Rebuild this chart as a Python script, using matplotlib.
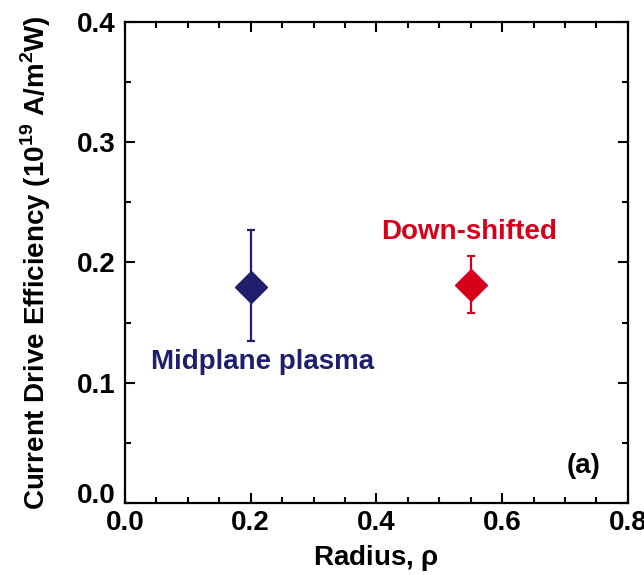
import matplotlib
matplotlib.use("Agg")
import matplotlib.pyplot as plt
from matplotlib.ticker import MultipleLocator
from matplotlib.transforms import ScaledTranslation

fam = ['Liberation Sans']
plt.rcParams['font.family'] = fam + ['DejaVu Sans']
plt.rcParams['font.weight'] = 'bold'
plt.rcParams['mathtext.fontset'] = 'custom'
plt.rcParams['mathtext.rm'] = 'Liberation Sans:bold'
plt.rcParams['mathtext.bf'] = 'Liberation Sans:bold'

# data
labels = ["Midplane plasma", "Down-shifted"]
radius = [0.2, 0.55]
efficiency = [0.180, 0.181]
err_low = [0.135, 0.158]
err_high = [0.227, 0.205]
colors = ["#1f1f6e", "#d7001b"]
xticks = [0.0, 0.2, 0.4, 0.6, 0.8]
yticks = [0.0, 0.1, 0.2, 0.3, 0.4]

fig = plt.figure(figsize=(6.44, 5.75), dpi=100)
ax = fig.add_axes([0.194, 0.125, 0.781, 0.837])

for x, y, lo, hi, c in zip(radius, efficiency, err_low, err_high, colors):
    ax.errorbar([x], [y], yerr=[[y - lo], [hi - y]], fmt='D', color=c,
                ms=16.5, mec=c, mfc=c, elinewidth=1.6, capsize=3, capthick=1.6)

ax.text(0.041, 0.117, labels[0], color=colors[0], fontsize=20, fontweight='bold',
        ha='left', va='center')
ax.text(0.408, 0.225, labels[1], color=colors[1], fontsize=20, fontweight='bold',
        ha='left', va='center')
ax.text(0.730, 0.031, "(a)", color='black', fontsize=20, fontweight='bold', ha='center', va='center')

ax.set_xlim(0.0, 0.8)
ax.set_ylim(0.0, 0.4)
ax.set_xticks(xticks)
ax.set_yticks(yticks)
ax.set_xticklabels([f"{v:.1f}" for v in xticks])
ax.set_yticklabels([f"{v:.1f}" for v in yticks])
ax.xaxis.set_minor_locator(MultipleLocator(0.05))
ax.yaxis.set_minor_locator(MultipleLocator(0.05))
ax.tick_params(which='both', direction='in', top=True, right=True, width=1.5)
ax.tick_params(which='major', length=7, labelsize=20)
ax.tick_params(axis='x', which='major', pad=5)
ax.tick_params(axis='y', which='major', pad=7)
ax.tick_params(which='minor', length=4)
for s in ax.spines.values():
    s.set_linewidth(1.6)

# raise the lowest y tick label a little, as in the reference
lab0 = ax.get_yticklabels()[0]
lab0.set_transform(lab0.get_transform() + ScaledTranslation(0, 0.1, fig.dpi_scale_trans))

ax.set_xlabel(r"Radius, $\mathrm{\rho}$", fontsize=20, fontweight='bold', labelpad=5)
ax.set_ylabel(r"Current Drive Efficiency (10$^{19}$ A/m$^{2}$W)", fontsize=20,
              fontweight='bold', labelpad=17)

fig.savefig("out.png", dpi=100)
